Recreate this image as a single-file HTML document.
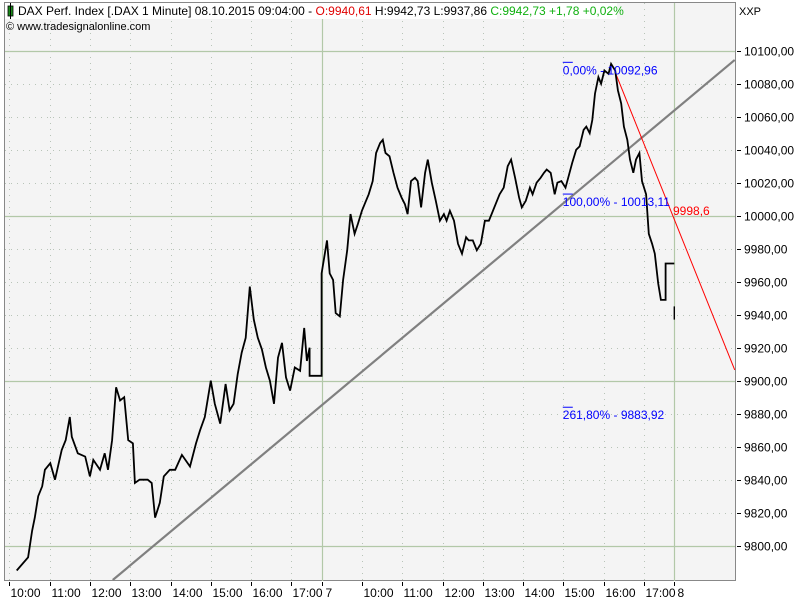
<!DOCTYPE html>
<html><head><meta charset="utf-8">
<style>
body{margin:0;background:#fff;font-family:"Liberation Sans",sans-serif;}
svg text{font-family:"Liberation Sans",sans-serif;}
</style></head>
<body>
<svg id="chart" width="800" height="600" xmlns="http://www.w3.org/2000/svg">
<rect x="0" y="0" width="800" height="600" fill="#ffffff"/>
<rect x="4.5" y="2.5" width="731" height="578" fill="#f4f4f4" stroke="#888" stroke-width="1"/>
<g id="grid"></g>
<g id="series"></g>
<g id="axes"></g>
<g>
<rect x="5" y="3" width="612" height="16" fill="#ffffff"/>
<rect x="8" y="6" width="5" height="10" fill="#1a8a1a" stroke="#000" stroke-width="0.8"/>
<line x1="10.5" y1="3" x2="10.5" y2="19" stroke="#000" stroke-width="1"/>
<text x="18" y="15" font-size="12" fill="#000">DAX Perf. Index [.DAX  1 Minute] 08.10.2015 09:04:00 - <tspan fill="#e00000">O:9940,61</tspan> H:9942,73 L:9937,86 <tspan fill="#10b010">C:9942,73 +1,78 +0,02%</tspan></text>
<text x="6" y="30" font-size="11" fill="#000">© www.tradesignalonline.com</text>
<text x="739" y="15" font-size="11" fill="#000">XXP</text>
</g>
</svg>
<script>
// session minute = day*525 + minutes since 09:00
const priceMinutes = [71,88,94,98,103,109,113,121,128,138,144,150,153,162,173,180,185,195,202,207,213,219,225,231,237,244,247,254,266,272,277,284,290,299,307,317,329,338,344,351,360,366,374,382,388,394,400,406,412,418,424,430,436,442,448,454,460,466,472,478,485,493,499,503,507,507,515,525,
525,533,537,542,546,552,557,563,568,574,579,585,591,595,601,606,612,616,620,626,632,638,644,649,653,658,664,668,673,679,683,689,695,701,707,711,716,722,728,734,740,744,750,756,762,768,774,778,784,790,796,802,807,813,819,823,829,835,839,845,851,856,860,866,872,876,882,888,892,898,904,909,915,919,924,928,932,937,941,946,952,956,962,966,971,975,980,984,989,993,998,1002,1008,1012,1017,1021,1026,1030,1037,1037,1050];
const priceValues = [9785,9793,9809,9817,9830,9836,9846,9850,9840,9858,9864,9878,9866,9856,9854,9842,9852,9846,9856,9846,9864,9896,9888,9890,9864,9862,9838,9840,9840,9838,9817,9826,9842,9846,9846,9855,9848,9862,9870,9878,9900,9886,9874,9898,9882,9886,9904,9917,9926,9957,9937,9926,9919,9908,9900,9886,9914,9923,9902,9894,9908,9906,9932,9912,9920,9903,9903,9903,
9965,9985,9965,9961,9941,9939,9961,9979,10001,9989,9995,10003,10009,10013,10021,10038,10044,10046,10038,10036,10026,10017,10011,10007,10001,10021,10023,10021,10005,10026,10034,10020,10009,9997,10001,9997,10003,9997,9983,9977,9987,9985,9985,9979,9983,9997,9997,10001,10007,10013,10017,10030,10034,10023,10011,10005,10009,10017,10013,10020,10023,10026,10028,10026,10013,10020,10021,10017,10023,10032,10040,10042,10052,10054,10050,10058,10074,10084,10080,10088,10086,10092,10088,10076,10068,10054,10046,10034,10026,10034,10038,10021,10013,9989,9983,9977,9959,9949,9949,9971,9971];
const day3Minutes = [1050,1050];
const day3Values = [9945,9937];
const trendMinutes = [214,1140];
const trendValues = [9779.2,10094.4];
const redMinutes = [962,1140];
const redValues = [10087,9906.5];
const fibLabels = ["0,00% - 10092,96","100,00% - 10013,11","261,80% - 9883,92"];
const fibValues = [10092.96,10013.11,9883.92];
const fibMinute = 884;
const yTicks = [9800,9820,9840,9860,9880,9900,9920,9940,9960,9980,10000,10020,10040,10060,10080,10100];
const yTickLabels = ["9800,00","9820,00","9840,00","9860,00","9880,00","9900,00","9920,00","9940,00","9960,00","9980,00","10000,00","10020,00","10040,00","10060,00","10080,00","10100,00"];
const xTickMinutes = [60,120,180,240,300,360,420,480,525,585,645,705,765,825,885,945,1005,1050];
const xTickLabels = ["10:00","11:00","12:00","13:00","14:00","15:00","16:00","17:00","7","10:00","11:00","12:00","13:00","14:00","15:00","16:00","17:00","8"];

const X0=-31, PX=0.6717;
function xs(m){return X0+m*PX;}
function ys(v){return 413.7-(v-9880)*1.65;}
const NS="http://www.w3.org/2000/svg";
function mk(tag,attrs,parent){const e=document.createElementNS(NS,tag);for(const k in attrs)e.setAttribute(k,attrs[k]);parent.appendChild(e);return e;}
const grid=document.getElementById('grid'),series=document.getElementById('series'),axes=document.getElementById('axes');
const L=5,R=735,T=3,B=581;
yTicks.forEach((v,i)=>{
  const y=Math.round(ys(v))+0.5;
  const solid=v%100===0;
  const gl=mk('line',{x1:L,x2:R,y1:y,y2:y,stroke:solid?'#b2c8a8':'#b8c4b8','stroke-width':solid?1.2:1,'stroke-dasharray':solid?'none':'1 5'},grid);
  
  
  const tk=mk('line',{x1:737,x2:741,y1:y,y2:y,stroke:'#000'},axes);
  
  
  const t=mk('text',{x:744,y:y+4,'font-size':12,fill:'#000'},axes);
  t.textContent=yTickLabels[i];
  
  
});
xTickMinutes.forEach((m,i)=>{
  const x=Math.round(xs(m))+0.5;
  const day=(m%525===0);
  const gl=mk('line',{x1:x,x2:x,y1:T,y2:B,stroke:day?'#b2c8a8':'#b8c4b8','stroke-width':day?1.2:1,'stroke-dasharray':day?'none':'1 5'},grid);
  
  
  const tk=mk('line',{x1:x,x2:x,y1:582,y2:586,stroke:'#000'},axes);
  
  
  const t=mk('text',{x:day?x+3:x+1,y:597,'font-size':12,fill:'#000'},axes);
  t.textContent=xTickLabels[i];
  
  
});
const tl=mk('line',{x1:xs(trendMinutes[0]),y1:ys(trendValues[0]),x2:xs(trendMinutes[1]),y2:ys(trendValues[1]),stroke:'#808080','stroke-width':2.2},series);


const rl=mk('line',{x1:xs(redMinutes[0]),y1:ys(redValues[0]),x2:xs(redMinutes[1]),y2:ys(redValues[1]),stroke:'#ff0000','stroke-width':1},series);


let d='';
priceMinutes.forEach((m,i)=>{d+=(i?'L':'M')+xs(m).toFixed(1)+' '+ys(priceValues[i]).toFixed(1);});
const pl=mk('path',{d:d,fill:'none',stroke:'#000','stroke-width':1.8,'stroke-linejoin':'miter'},series);


let d3='M'+xs(day3Minutes[0]).toFixed(1)+' '+ys(day3Values[0]).toFixed(1)+'L'+xs(day3Minutes[1]).toFixed(1)+' '+ys(day3Values[1]).toFixed(1);
const p3=mk('path',{d:d3,fill:'none',stroke:'#000','stroke-width':1.4},series);


fibValues.forEach((v,i)=>{
  const x=xs(fibMinute), y=ys(v);
  const ln=mk('line',{x1:x,x2:x+10,y1:y,y2:y,stroke:'#0000ff','stroke-width':1},series);
  
  
  const t=mk('text',{x:x,y:y+12,'font-size':12,fill:'#0000ff'},series);
  t.textContent=fibLabels[i];
  
  
});
const rt=mk('text',{x:673,y:215,'font-size':12,fill:'#ff0000'},series);
rt.textContent='9998,6';


</script>
</body></html>
